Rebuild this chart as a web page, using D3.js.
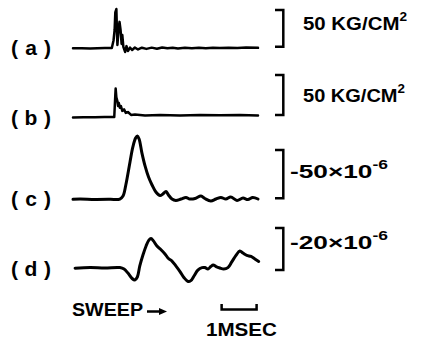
<!DOCTYPE html>
<html>
<head>
<meta charset="utf-8">
<script src="https://cdn.jsdelivr.net/npm/d3@7"></script>
<style>
  html, body { margin: 0; padding: 0; background: #fff; }
  #chart--wrapper { width: 425px; height: 354px; }
  text { font-family: "Liberation Sans", Arial, sans-serif; font-weight: bold; fill: #000; }
</style>
</head>
<body>
<div id="chart--wrapper"></div>
<script>
// 波形データ [時間(ms), 値]
// (a) 圧力 kg/cm2
const traceA = [
  [0, 0], [0.25, 0.2], [0.49, -0.3], [0.7, 0.2], [0.91, 0.4], [1.11, 0.4], [1.16, 11], [1.19, 25],
  [1.21, 49], [1.24, 53.5], [1.26, 18], [1.27, 4.5], [1.30, 25], [1.33, 36], [1.36, 25],
  [1.39, 6], [1.41, 18], [1.44, 2], [1.49, -5], [1.53, 3], [1.57, -3.7], [1.63, 1],
  [1.69, -2.3], [1.77, 1], [1.86, -1.6], [1.97, 0.8], [2.1, -0.8], [2.25, 0.9], [2.4, -0.5],
  [2.55, 1.2], [2.7, 0], [2.85, 0.8], [3.0, -0.4], [3.2, 0.9], [3.4, 0.1], [3.6, 0.8],
  [3.8, 0], [4.0, 0.9], [4.2, 0.3], [4.45, 0.9], [4.7, 0.4], [4.95, 1], [5.29, 0.6]
];
// (b) 圧力 kg/cm2
const traceB = [
  [0, -0.3], [0.3, 0.1], [0.63, 0], [0.9, 0.3], [1.11, 0.4], [1.18, 0.4], [1.21, 28], [1.22, 36],
  [1.24, 25], [1.27, 20], [1.29, 14], [1.31, 18], [1.34, 12], [1.37, 14], [1.41, 8],
  [1.46, 10], [1.51, 5.4], [1.57, 6.6], [1.66, 3], [1.77, 3.5], [2.06, 2.2], [2.49, 2.9],
  [3.06, 2.2], [3.63, 2.9], [4.2, 2.5], [4.77, 2.9], [5.29, 2.2]
];
// (c) ひずみ ×10^-6
const traceC = [
  [0, 0], [0.2, 0.3], [0.63, -0.2], [1.06, 0], [1.34, 0.3], [1.43, 3.4], [1.51, 14.8],
  [1.63, 38.6], [1.71, 54], [1.79, 63.4], [1.84, 65.5], [1.89, 62.4], [1.97, 48], [2.06, 34.5],
  [2.16, 23], [2.26, 14.8], [2.37, 7.6], [2.49, 3.9], [2.57, 5.5], [2.66, 8], [2.73, 4.5],
  [2.83, 0.3], [2.94, -1.2], [3.09, 0.3], [3.23, 1.9], [3.34, 0.3], [3.49, 0.8], [3.66, 3.4],
  [3.77, 0.8], [3.94, -1.8], [4.09, 0.3], [4.23, 1.9], [4.37, 0.3], [4.51, 2.4], [4.69, -1.2],
  [4.86, 1.3], [5.0, -0.2], [5.14, 1.9], [5.29, 0.3]
];
// (d) ひずみ ×10^-6
const traceD = [
  [0.06, -0.1], [0.49, 0.2], [0.91, 0], [1.34, 0.2], [1.46, -0.5], [1.57, -2.4], [1.69, -5],
  [1.77, -5.7], [1.84, -4.3], [1.91, 1], [2.0, 6.2], [2.09, 10.5], [2.17, 13.3], [2.23, 14.1],
  [2.3, 12.9], [2.4, 10.5], [2.51, 8.8], [2.63, 6.7], [2.73, 4.5], [2.83, 3.3], [2.94, 1],
  [3.06, -1.7], [3.17, -4.5], [3.29, -6.4], [3.37, -6], [3.46, -3.8], [3.57, -1], [3.69, 0.2],
  [3.77, 0.2], [3.86, -0.5], [3.94, 0.7], [4.01, 1.4], [4.09, 0.7], [4.2, 0], [4.31, -0.5],
  [4.43, 0.2], [4.54, 2.9], [4.66, 6], [4.77, 8.1], [4.86, 7.1], [4.97, 6], [5.09, 5.5],
  [5.2, 4.3], [5.31, 3.1]
];

const traces = [traceA, traceB, traceC, traceD];
const traceLabels = ["( a )", "( b )", "( c )", "( d )"];
const scaleValues = [50, 50, 50, 20];
const scaleMain = ["50 KG/CM", "50 KG/CM", "-50×10", "-20×10"];
const scaleSup = ["2", "2", "-6", "-6"];
const sweepLabel = "SWEEP";
const timeBarLabel = "1MSEC";
const timeBarStart = 4.25;   // ms
const timeBarLength = 1;     // ms

// 描画位置(レイアウト)
const layout = [
  { base: 48.3, top: 10, bottom: 46.7, textX: 303, textY: 25, textW: 104, width: 2.5, curve: d3.curveLinear },
  { base: 117.3, top: 75, bottom: 115, textX: 303, textY: 97, textW: 102, width: 2.5, curve: d3.curveLinear },
  { base: 199.3, top: 150, bottom: 198.3, textX: 290, textY: 173, textW: 98, width: 3, curve: d3.curveCatmullRom },
  { base: 268, top: 228, bottom: 270, textX: 290, textY: 244, textW: 98, width: 3, curve: d3.curveCatmullRom }
];
const labelY = [49, 119, 200, 270];

function draw() {
    const contents = d3.select('#chart--wrapper');
    const svg = contents.append("svg")
        .attr("width", 425)
        .attr("height", 354);

    // 時間軸 (ms)
    const xScale = d3.scaleLinear()
        .domain([0, 5.29])
        .range([73, 258]);

    traces.forEach(function(data, i) {
        const L = layout[i];
        // 各波形ごとのY軸
        const yScale = d3.scaleLinear()
            .domain([0, scaleValues[i]])
            .range([L.base, L.base - (L.bottom - L.top)]);

        const line = d3.line()
            .x(function(d) { return xScale(d[0]); })
            .y(function(d) { return yScale(d[1]); })
            .curve(L.curve);

        svg.append("path")
            .datum(data)
            .attr("fill", "none")
            .attr("stroke", "#000")
            .attr("stroke-width", L.width)
            .attr("stroke-linejoin", "round")
            .attr("stroke-linecap", "round")
            .attr("d", line);

        // 左側のラベル
        svg.append("text")
            .attr("x", 11)
            .attr("y", labelY[i])
            .attr("dominant-baseline", "middle")
            .attr("font-size", 21)
            .attr("textLength", 40)
            .attr("lengthAdjust", "spacing")
            .text(traceLabels[i]);

        // スケールの括弧
        svg.append("path")
            .attr("fill", "none")
            .attr("stroke", "#000")
            .attr("stroke-width", 2.5)
            .attr("d", "M275," + L.top + "H283.3V" + L.bottom + "H275");

        // スケールの値
        const t = svg.append("text")
            .attr("x", L.textX)
            .attr("y", L.textY)
            .attr("dominant-baseline", "middle")
            .attr("font-size", 18)
            .attr("textLength", L.textW)
            .attr("lengthAdjust", "spacingAndGlyphs");
        t.append("tspan").text(scaleMain[i]);
        t.append("tspan")
            .attr("dy", -7)
            .attr("font-size", 12)
            .text(scaleSup[i]);
    });

    // SWEEP と矢印
    svg.append("text")
        .attr("x", 72)
        .attr("y", 311)
        .attr("dominant-baseline", "middle")
        .attr("font-size", 19)
        .attr("textLength", 71)
        .attr("lengthAdjust", "spacingAndGlyphs")
        .text(sweepLabel);
    svg.append("line")
        .attr("x1", 147).attr("x2", 160)
        .attr("y1", 311.5).attr("y2", 311.5)
        .attr("stroke", "#000")
        .attr("stroke-width", 2.5);
    svg.append("path")
        .attr("d", "M159,308L167,311.5L159,315Z")
        .attr("fill", "#000");

    // 1MSEC のスケールバー
    const x0 = xScale(timeBarStart);
    const x1 = xScale(timeBarStart + timeBarLength);
    svg.append("path")
        .attr("fill", "none")
        .attr("stroke", "#000")
        .attr("stroke-width", 2.5)
        .attr("d", "M" + x0 + ",304V309.5H" + x1 + "V304");
    svg.append("text")
        .attr("x", 206)
        .attr("y", 331)
        .attr("dominant-baseline", "middle")
        .attr("font-size", 19)
        .attr("textLength", 71)
        .attr("lengthAdjust", "spacingAndGlyphs")
        .text(timeBarLabel);
}
draw();
</script>
</body>
</html>
